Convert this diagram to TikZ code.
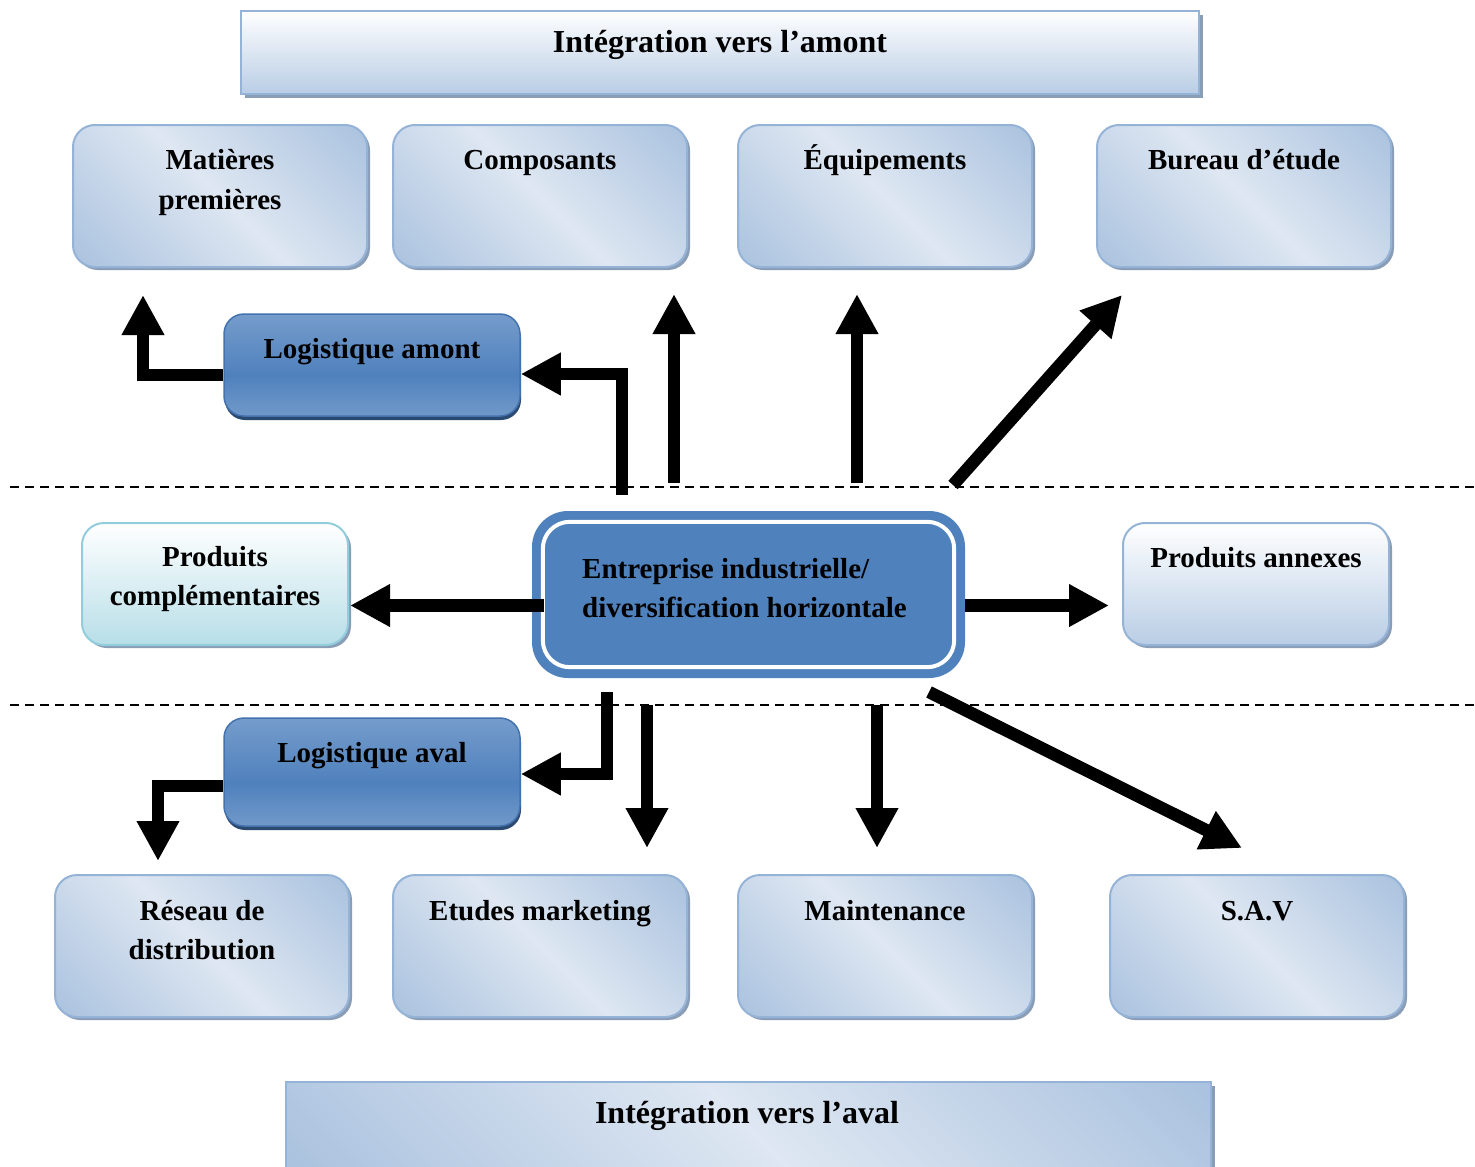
\documentclass[tikz,border=0pt]{standalone}
\usepackage{fontspec}
\setmainfont{Liberation Serif}
\usetikzlibrary{arrows.meta,calc,shadows}

% palette
\definecolor{sheenDark}{HTML}{95B3D7}
\definecolor{sheenLight}{HTML}{DEE7F2}
\colorlet{sheenMid}{sheenDark!45!sheenLight}
\definecolor{boxLine}{HTML}{95B3D7}
\definecolor{boxShadow}{HTML}{8A9DB6}
\definecolor{logiLight}{HTML}{95B3D7}
\definecolor{logiDark}{HTML}{4F81BD}
\definecolor{logiLine}{HTML}{4472AE}
\definecolor{logiShadow}{HTML}{2A4A72}
\definecolor{coreBlue}{HTML}{4F81BD}
\definecolor{aquaLine}{HTML}{92CDDC}
\definecolor{aquaFill}{HTML}{B7DEE8}
\definecolor{bannerFill}{HTML}{B9CDE5}
\definecolor{annexFill}{HTML}{B9CDE5}

% diagonal sheen: dark corners, light band across the middle
\pgfdeclarehorizontalshading{sheen}{100bp}{color(0bp)=(sheenDark); color(28bp)=(sheenMid); color(50bp)=(sheenLight); color(72bp)=(sheenMid); color(100bp)=(sheenDark)}
% logistics boxes: light top and bottom, deep blue band below the middle
\pgfdeclareverticalshading{logi}{100bp}{color(0bp)=(logiLight); color(12bp)=(logiLight!80!logiDark); color(45bp)=(logiDark); color(100bp)=(logiLight)}

\tikzset{
  txt/.style={font=\bfseries\fontsize{29}{38}\selectfont, inner sep=0pt, anchor=base},
  bigtxt/.style={font=\bfseries\fontsize{32}{38}\selectfont, inner sep=0pt, anchor=base},
  sheenbox/.style={draw=boxLine, line width=2pt, rounded corners=22pt, shade, shading=sheen, shading angle=45,
    minimum width=294pt, minimum height=142pt, inner sep=0pt,
    drop shadow={shadow xshift=3pt, shadow yshift=-3pt, fill=boxShadow, opacity=1}},
  logibox/.style={draw=logiLine, line width=1.5pt, rounded corners=20pt, shade, shading=logi,
    minimum width=296pt, minimum height=102pt, inner sep=0pt,
    drop shadow={shadow xshift=1pt, shadow yshift=-4pt, fill=logiShadow, opacity=1}},
  aquabox/.style={draw=aquaLine, line width=2pt, rounded corners=22pt, top color=white, bottom color=aquaFill,
    minimum width=266pt, minimum height=122pt, inner sep=0pt,
    drop shadow={shadow xshift=3pt, shadow yshift=-3pt, fill=boxShadow, opacity=1}},
  annexbox/.style={draw=boxLine, line width=2pt, rounded corners=22pt, top color=white, bottom color=annexFill,
    minimum width=266pt, minimum height=122pt, inner sep=0pt,
    drop shadow={shadow xshift=3pt, shadow yshift=-3pt, fill=boxShadow, opacity=1}},
  banner/.style={draw=boxLine, line width=2pt, inner sep=0pt,
    drop shadow={shadow xshift=4pt, shadow yshift=-4pt, fill=boxShadow, opacity=1}},
  corebox/.style={fill=coreBlue, rounded corners=36pt, minimum width=433pt, minimum height=167pt, inner sep=0pt},
  fat/.style={line width=12.5pt, -{Triangle[length=40pt,width=40pt]}},
  divider/.style={line width=2pt, dash pattern=on 9pt off 6pt},
}

\begin{document}
\begin{tikzpicture}[x=1pt, y=-1pt]
\useasboundingbox (0,0) rectangle (1475,1167);

% banners
\node[banner, top color=white, bottom color=bannerFill, minimum width=958pt, minimum height=83pt] (up) at (720,52) {};
\node[banner, shade, shading=sheen, shading angle=45, minimum width=925pt, minimum height=90pt] (down) at (748,1127) {};
\node[bigtxt] at (720,52) {Intégration vers l’amont};
\node[bigtxt] at (747,1123) {Intégration vers l’aval};

% dividing lines
\coordinate (divAL) at (10,487);
\coordinate (divAR) at (1475,487);
\coordinate (divBL) at (10,705);
\coordinate (divBR) at (1475,705);
\draw[divider] (divAL) -- (divAR);
\draw[divider] (divBL) -- (divBR);

% upstream boxes
\node[sheenbox] (mp) at (220,196) {};
\node[sheenbox] (cmp) at (540,196) {};
\node[sheenbox] (eq) at (885,196) {};
\node[sheenbox] (bd) at (1244,196) {};
\node[txt] at (220,169) {Matières};
\node[txt] at (220,209) {premières};
\node[txt] at (540,169) {Composants};
\node[txt] at (885,169) {Équipements};
\node[txt] at (1244,169) {Bureau d’étude};

% logistics
\node[logibox] (lam) at (372,365) {};
\node[txt] at (372,358) {Logistique amont};
\node[logibox, minimum height=108pt] (lav) at (372,772) {};
\node[txt] at (372,762) {Logistique aval};

% middle row
\node[aquabox] (pc) at (215,584) {};
\node[txt] at (215,566) {Produits};
\node[txt] at (215,605) {complémentaires};
\node[annexbox] (pa) at (1256,584) {};
\node[txt] at (1256,567) {Produits annexes};

% downstream boxes
\node[sheenbox] (rd) at (202,946) {};
\node[sheenbox] (em) at (540,946) {};
\node[sheenbox] (mt) at (885,946) {};
\node[sheenbox] (sav) at (1257,946) {};
\node[txt] at (202,920) {Réseau de};
\node[txt] at (202,959) {distribution};
\node[txt] at (540,920) {Etudes marketing};
\node[txt] at (885,920) {Maintenance};
\node[txt] at (1257,920) {S.A.V};

% arrow anchors
\coordinate (upA) at (622,495);
\coordinate (upB) at (674,483);
\coordinate (upC) at (857,483);
\coordinate (upD) at (953,485);
\coordinate (bdIn) at (1122,295);
\coordinate (lamOut) at (143,375);
\coordinate (mpIn) at (143,295);
\coordinate (dnA) at (607,692);
\coordinate (dnB) at (647,705);
\coordinate (dnC) at (877,705);
\coordinate (dnD) at (929,692);
\coordinate (savIn) at (1242,848);
\coordinate (lavOut) at (158,786);
\coordinate (rdIn) at (158,861);

% upstream arrows
\draw[fat] (upA) |- ($(lam.east)+(0,9)$);
\draw[fat] ($(lam.west)+(0,10)$) -- (lamOut) -- (mpIn);
\draw[fat, shorten >=26pt] (upB) -- (upB |- cmp.south);
\draw[fat, shorten >=26pt] (upC) -- (upC |- eq.south);
\draw[fat] (upD) -- (bdIn);

% downstream arrows
\draw[fat] (dnA) |- ($(lav.east)+(0,2)$);
\draw[fat] ($(lav.west)+(0,14)$) -- (lavOut) -- (rdIn);
\draw[fat, shorten >=26pt] (dnB) -- (dnB |- em.north);
\draw[fat, shorten >=26pt] (dnC) -- (dnC |- mt.north);
\draw[fat] (dnD) -- (savIn);

% central company box
\node[corebox] (ent) at (748.5,594.5) {};
\draw[white, line width=4pt, rounded corners=27pt]
  ($(ent.south west)+(11,-11)$) rectangle ($(ent.north east)+(-11,11)$);
\node[txt, anchor=base west] at (582,578) {Entreprise industrielle/};
\node[txt, anchor=base west] at (582,617) {diversification horizontale};

% horizontal arrows
\coordinate (entL) at ($(ent.west)+(12,11)$);
\coordinate (entR) at ($(ent.east)+(0,11)$);
\draw[fat, shorten >=1pt] (entL) -- (entL -| pc.east);
\draw[fat, shorten >=13pt] (entR) -- (entR -| pa.west);
\end{tikzpicture}
\end{document}
